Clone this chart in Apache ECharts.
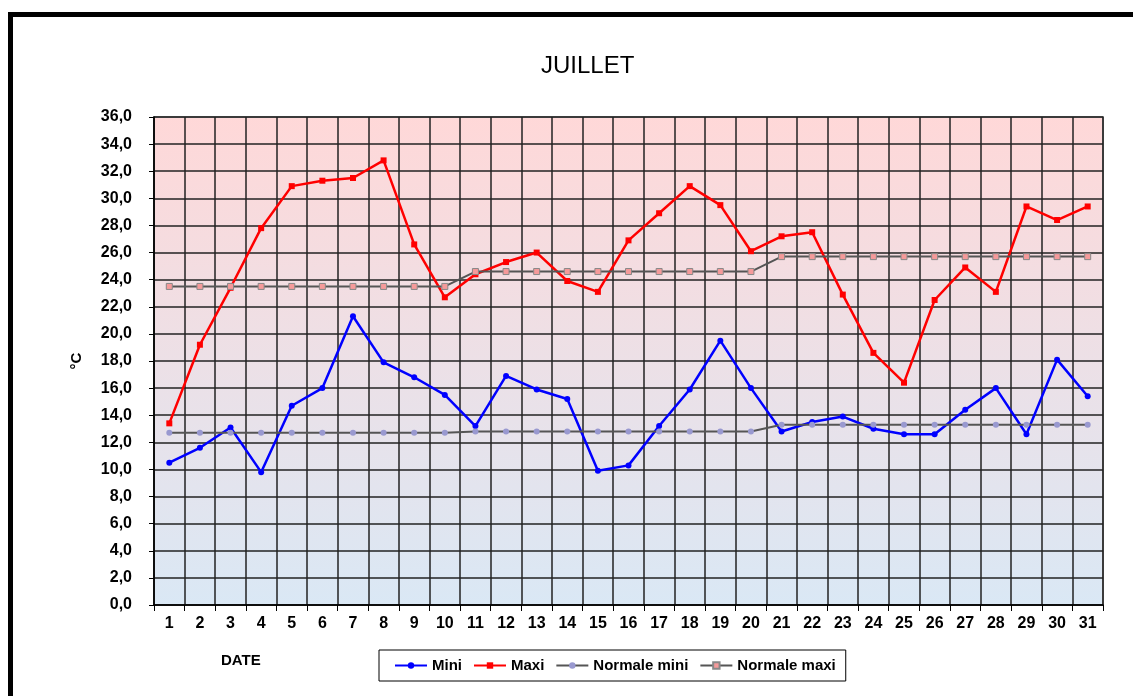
<!DOCTYPE html>
<html>
<head>
<meta charset="utf-8">
<script src="https://cdn.jsdelivr.net/npm/echarts@6/dist/echarts.min.js"></script>
<style>
  html, body { margin: 0; padding: 0; background: #fff; }
  #frame {
    position: absolute; left: 8px; top: 12px; right: 0; bottom: 0;
    border-top: 5px solid #000; border-left: 5px solid #000;
  }
  #chart { position: absolute; left: 0; top: 0; width: 1133px; height: 696px; }
</style>
</head>
<body>
<div id="frame"></div>
<div id="chart"></div>
<script>
// jours du mois
const days = ['1','2','3','4','5','6','7','8','9','10','11','12','13','14','15','16','17','18','19','20','21','22','23','24','25','26','27','28','29','30','31']

// températures relevées
const mini = [10.5, 11.6, 13.1, 9.8, 14.7, 16.0, 21.3, 17.9, 16.8, 15.5,
  13.2, 16.9, 15.9, 15.2, 9.9, 10.3, 13.2, 15.9, 19.5, 16.0,
  12.8, 13.5, 13.9, 13.0, 12.6, 12.6, 14.4, 16.0, 12.6, 18.1, 15.4]
const maxi = [13.4, 19.2, 23.4, 27.8, 30.9, 31.3, 31.5, 32.8, 26.6, 22.7,
  24.4, 25.3, 26.0, 23.9, 23.1, 26.9, 28.9, 30.9, 29.5, 26.1,
  27.2, 27.5, 22.9, 18.6, 16.4, 22.5, 24.9, 23.1, 29.4, 28.4, 29.4]

// normales
const normaleMini = [12.7, 12.7, 12.7, 12.7, 12.7, 12.7, 12.7, 12.7, 12.7, 12.7,
  12.8, 12.8, 12.8, 12.8, 12.8, 12.8, 12.8, 12.8, 12.8, 12.8,
  13.3, 13.3, 13.3, 13.3, 13.3, 13.3, 13.3, 13.3, 13.3, 13.3, 13.3]
const normaleMaxi = [23.5, 23.5, 23.5, 23.5, 23.5, 23.5, 23.5, 23.5, 23.5, 23.5,
  24.6, 24.6, 24.6, 24.6, 24.6, 24.6, 24.6, 24.6, 24.6, 24.6,
  25.7, 25.7, 25.7, 25.7, 25.7, 25.7, 25.7, 25.7, 25.7, 25.7, 25.7]

const chart = echarts.init(document.getElementById('chart'))

const font = 'Arial, "Liberation Sans", sans-serif'

chart.setOption({
  animation: false,
  textStyle: { fontFamily: font },
  grid: {
    left: 154, right: 30, top: 117, bottom: 91,
    show: true,
    borderColor: '#888',
    borderWidth: 2,
    backgroundColor: new echarts.graphic.LinearGradient(0, 0, 0, 1, [
      { offset: 0, color: '#ffd8d8' },
      { offset: 1, color: '#dae8f5' }
    ])
  },
  graphic: [
    {
      type: 'text', left: 541, top: 54,
      style: { text: 'JUILLET', font: '24px ' + font, fill: '#000' }
    },
    {
      type: 'text', left: 221, top: 653,
      style: { text: 'DATE', font: 'bold 15px ' + font, fill: '#000' }
    }
  ],
  legend: {
    left: 379, top: 650,
    padding: [8, 10, 8, 15],
    borderColor: '#000',
    borderWidth: 1,
    itemWidth: 32,
    itemHeight: 8,
    itemGap: 11,
    textStyle: { fontFamily: font, fontWeight: 'bold', fontSize: 15, color: '#000' },
    data: ['Mini', 'Maxi', 'Normale mini', 'Normale maxi']
  },
  xAxis: {
    type: 'category',
    data: days,
    boundaryGap: true,
    axisLine: { lineStyle: { color: '#000', width: 1.5 } },
    axisTick: { show: true, length: 6, lineStyle: { color: '#000' } },
    axisLabel: { color: '#000', fontWeight: 'bold', fontSize: 16, margin: 11, interval: 0 },
    splitLine: { show: true, interval: 0, lineStyle: { color: '#222', width: 1.5 } }
  },
  yAxis: {
    type: 'value',
    min: 0, max: 36, interval: 2,
    name: '°C',
    nameLocation: 'middle',
    nameGap: 70,
    nameTextStyle: { color: '#000', fontWeight: 'bold', fontSize: 15 },
    axisLine: { show: true, lineStyle: { color: '#000', width: 1.5 } },
    axisTick: { show: true, length: 5, lineStyle: { color: '#000' } },
    axisLabel: {
      color: '#000', fontWeight: 'bold', fontSize: 16, margin: 22,
      formatter: v => v.toFixed(1).replace('.', ',')
    },
    splitLine: { show: true, lineStyle: { color: '#222', width: 1.5 } }
  },
  series: [
    {
      name: 'Mini', type: 'line', data: mini,
      symbol: 'circle', symbolSize: 6,
      itemStyle: { color: '#0000ff' },
      lineStyle: { color: '#0000ff', width: 2.5 }
    },
    {
      name: 'Maxi', type: 'line', data: maxi,
      symbol: 'rect', symbolSize: 6,
      itemStyle: { color: '#ff0000' },
      lineStyle: { color: '#ff0000', width: 2.5 }
    },
    {
      name: 'Normale mini', type: 'line', data: normaleMini,
      symbol: 'circle', symbolSize: 6,
      itemStyle: { color: '#9999d0' },
      lineStyle: { color: '#555', width: 2 }
    },
    {
      name: 'Normale maxi', type: 'line', data: normaleMaxi,
      symbol: 'rect', symbolSize: 6,
      itemStyle: { color: '#f59a9a', borderColor: '#888', borderWidth: 1 },
      lineStyle: { color: '#555', width: 2 }
    }
  ]
})
</script>
</body>
</html>
